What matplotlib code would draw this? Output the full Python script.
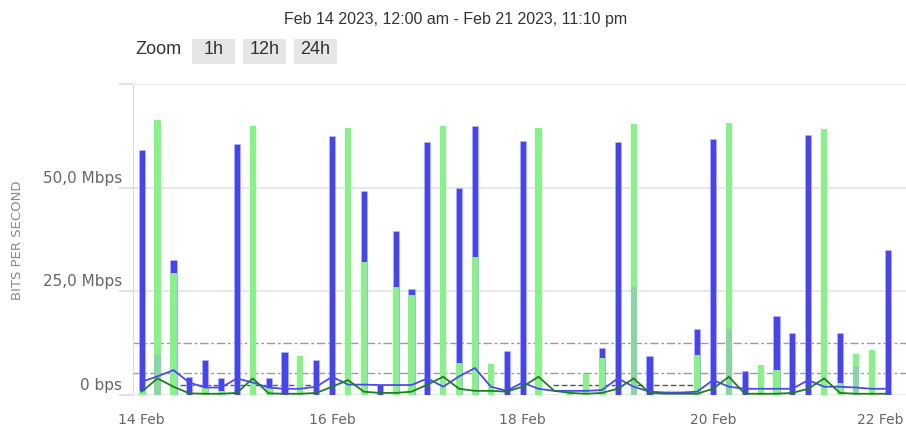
import matplotlib
matplotlib.use("Agg")
import matplotlib.pyplot as plt
from matplotlib.patches import Rectangle
import numpy as np

# ---------------- data ----------------
title = "Feb 14 2023, 12:00 am - Feb 21 2023, 11:10 pm"
zoom_buttons = ["1h", "12h", "24h"]
day_labels = ["14 Feb", "16 Feb", "18 Feb", "20 Feb", "22 Feb"]
day_hours = [0, 48, 96, 144, 192]            # hours since 14 Feb 00:00
y_ticks = [0, 25, 50, 75]
y_labels = ["0 bps", "25,0 Mbps", "50,0 Mbps", ""]

# 4-hour slots (48 slots from 14 Feb 00:00), values in Mbps
blue_bars = [59.0, 0, 32.5, 4.4, 8.5, 4.0, 60.5, 0, 4.0, 10.3, 0, 8.5,
             62.5, 0, 49.2, 2.4, 39.5, 25.5, 60.9, 0, 49.8, 64.9, 0, 10.5,
             61.3, 0, 0, 0, 0, 11.3, 60.9, 0, 9.5, 0, 0, 15.9,
             61.7, 0, 5.8, 0, 19.0, 15.0, 62.7, 0, 15.0, 0, 0, 35.0]
green_bars = [1.0, 66.3, 29.5, 0, 2.0, 1.0, 0, 64.9, 1.7, 0, 9.5, 0,
              0, 64.5, 32.1, 0, 26.1, 24.0, 0, 64.9, 7.7, 33.2, 7.4, 0,
              0, 64.5, 0, 1.2, 5.0, 8.9, 0, 65.3, 0, 0, 0, 9.7,
              0, 65.7, 0, 7.3, 6.1, 0, 0, 64.2, 3.0, 9.9, 10.9, 0]
teal_bars = [0, 9.7, 0, 0, 0, 0, 0, 0, 0, 0, 0, 0,
             0, 0, 0, 0, 0, 0, 0, 0, 0, 0, 0, 0,
             0, 0, 0, 0, 0, 0, 0, 26.0, 0, 0, 0, 0,
             0, 16.0, 0, 0, 0, 0, 0, 0, 0, 7.0, 0, 0]
blue_line = [3.2, 4.5, 6.0, 3.0, 1.8, 1.8, 4.0, 3.0, 1.8, 1.5, 1.5, 2.0,
             4.4, 2.5, 2.5, 2.4, 2.4, 2.4, 4.0, 2.0, 4.5, 6.5, 2.0, 1.0,
             3.0, 1.5, 1.0, 1.0, 1.0, 1.2, 4.0, 2.0, 0.8, 0.6, 0.6, 0.8,
             3.6, 2.0, 1.5, 1.5, 1.5, 1.5, 3.6, 2.0, 2.0, 1.8, 1.5, 1.5]
green_line = [0.8, 4.0, 2.0, 0.4, 0.3, 0.3, 0.5, 4.0, 0.4, 0.3, 0.3, 0.5,
              2.0, 3.6, 0.8, 0.5, 0.5, 0.8, 2.5, 4.4, 1.5, 1.0, 1.0, 0.8,
              2.0, 4.4, 1.0, 0.5, 0.3, 0.5, 1.5, 4.0, 0.5, 0.3, 0.3, 0.3,
              1.5, 4.4, 0.3, 0.3, 0.3, 0.5, 1.5, 4.0, 0.5, 0.3, 0.3, 0.3]
ref_levels = [12.6, 5.3]
seg_level = 2.3
seg_start = [9.7, 103.7, 124.8]
seg_end = [44.2, 120.6, 138.9]

slot_hours = np.arange(len(blue_bars)) * 4

# ---------------- figure ----------------
W, H = 906, 428
fig = plt.figure(figsize=(W / 100, H / 100), dpi=100)
fig.patch.set_facecolor("white")
ax = fig.add_axes([133 / W, (H - 395) / H, (W - 133) / W, (395 - 84) / H])

bw = 1.55
ax.bar(slot_hours, blue_bars, width=bw, color="#4444f4", zorder=3,
       edgecolor="#b8b8fa", linewidth=0.4)
ax.bar(slot_hours, green_bars, width=bw, color="#84f484", zorder=4, linewidth=0)
ax.bar(slot_hours, teal_bars, width=bw, color="#86d7a0", zorder=5, linewidth=0)

for lv in ref_levels:
    ax.axhline(lv, color="#9a9a9a", lw=1.0, ls=(0, (6, 2, 2, 2)), zorder=2)
for s, e in zip(seg_start, seg_end):
    ax.plot([s, e], [seg_level, seg_level], color="#555555", lw=1.0,
            ls=(0, (4, 2)), zorder=2)

ax.plot(slot_hours, blue_line, color="#4a4af0", lw=1.3, zorder=6)
ax.plot(slot_hours, green_line, color="#1f7f1f", lw=1.3, zorder=7)

ax.set_xlim((133 - 141.7) / 15.87 * 4, (906 - 141.7) / 15.87 * 4)
ax.set_ylim(0, 75)

# grid / spines
ax.set_yticks(y_ticks)
ax.set_yticklabels([])
ax.yaxis.grid(True, color="#e4e4e4", lw=1.2, zorder=0)
ax.tick_params(axis="y", length=10, color="#dddddd", width=1.2)
for sp in ["top", "right", "bottom"]:
    ax.spines[sp].set_visible(False)
ax.spines["left"].set_color("#dcdcdc")
ax.set_axisbelow(True)

for v, lab in zip(y_ticks, y_labels):
    if lab:
        ax.annotate(lab, xy=(0, v), xycoords=("axes fraction", "data"),
                    xytext=(-11 * 0.72, 2 * 0.72), textcoords="offset points",
                    ha="right", va="bottom", fontsize=11, color="#666666",
                    family="DejaVu Sans")

ax.set_xticks(day_hours)
ax.set_xticklabels(day_labels, fontsize=10, color="#666666", family="DejaVu Sans")
ax.tick_params(axis="x", length=0, pad=13)
lbls = ax.get_xticklabels()
lbls[-1].set_horizontalalignment("right")
lbls[-1].set_x(day_hours[-1])

fig.text(18 / W, 1 - 240 / H, "BITS PER SECOND", rotation=90, ha="center",
         va="center", fontsize=9.5, color="#8a8a8a", family="DejaVu Sans")

fig.text(456 / W, 1 - 19.5 / H, title, ha="center", va="center",
         fontsize=11.5, color="#333333", family="Liberation Sans")

fig.text(135 / W, 1 - 49 / H, "Zoom", ha="left", va="center",
         fontsize=13, color="#333333", family="Liberation Sans")
box_x = [192, 243, 294]
for bx, lab in zip(box_x, zoom_buttons):
    fig.add_artist(Rectangle((bx / W, 1 - 64 / H), 43 / W, 25 / H,
                             transform=fig.transFigure, facecolor="#e6e6e6",
                             edgecolor="none"))
    fig.text((bx + 21.5) / W, 1 - 49 / H, lab, ha="center", va="center",
             fontsize=13, color="#333333", family="Liberation Sans")

fig.savefig("out.png", dpi=100)
